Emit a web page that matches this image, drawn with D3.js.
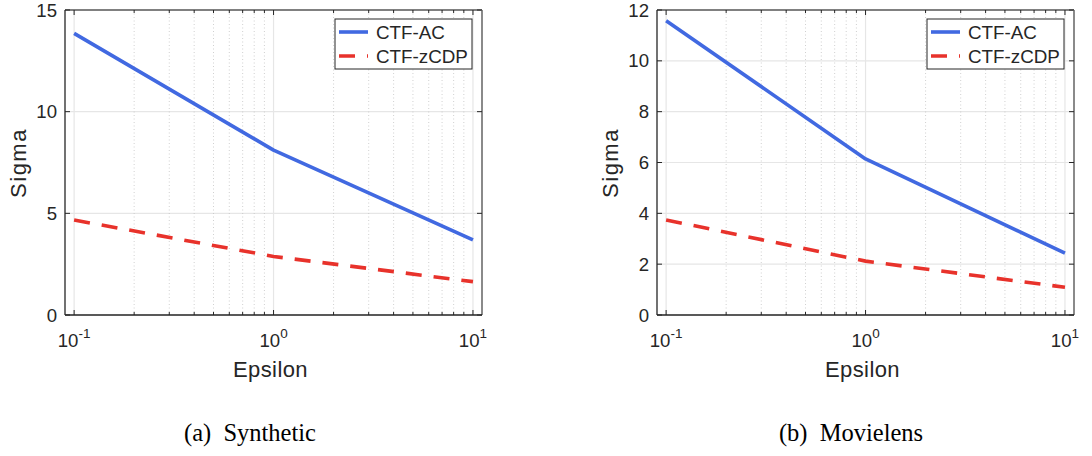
<!DOCTYPE html>
<html>
<head>
<meta charset="utf-8">
<script src="https://cdn.jsdelivr.net/npm/d3@7"></script>
<style>
  body { margin: 0; background: #fff; }
  svg { display: block; }
</style>
</head>
<body>
<script>
// data
const epsilon = [0.1, 1, 10];
const synthAC = [13.85, 8.11, 3.69];
const synthZCDP = [4.67, 2.88, 1.64];
const movieAC = [11.58, 6.14, 2.43];
const movieZCDP = [3.74, 2.12, 1.09];
const seriesNames = ['CTF-AC', 'CTF-zCDP'];
const synthYTicks = [0, 5, 10, 15];
const movieYTicks = [0, 2, 4, 6, 8, 10, 12];
const xTicks = [0.1, 1, 10];
const xExp = ['-1', '0', '1'];
const captions = ['(a)  Synthetic', '(b)  Movielens'];

const W = 1092, H = 456;
const font = '"Liberation Sans", Arial, Helvetica, sans-serif';
const ink = '#262626';
const colors = { ac: '#4169e1', zcdp: '#e8322b' };

const svg = d3.select('body').append('svg')
    .attr('width', W)
    .attr('height', H);

const panels = [
    { left: 65, right: 482, ac: synthAC, zcdp: synthZCDP, ymax: 15, yticks: synthYTicks, caption: captions[0], capX: 250 },
    { left: 657, right: 1074, ac: movieAC, zcdp: movieZCDP, ymax: 12, yticks: movieYTicks, caption: captions[1], capX: 851 }
];
const plotTop = 10, plotBottom = 315;

// minor ticks 2..9 per decade
const minor = [];
[0.1, 1].forEach(d => { for (let k = 2; k <= 9; k++) minor.push(d * k); });

panels.forEach(p => {
    const x = d3.scaleLog().domain([0.09, 11.1]).range([p.left, p.right]);
    const y = d3.scaleLinear().domain([0, p.ymax]).range([plotBottom, plotTop]);
    const g = svg.append('g');

    // grid
    g.append('g').selectAll('line')
        .data(p.yticks).enter().append('line')
        .attr('x1', p.left).attr('x2', p.right)
        .attr('y1', d => y(d)).attr('y2', d => y(d))
        .attr('stroke', '#e6e6e6').attr('stroke-width', 1.2);
    g.append('g').selectAll('line')
        .data(xTicks).enter().append('line')
        .attr('x1', d => x(d)).attr('x2', d => x(d))
        .attr('y1', plotTop).attr('y2', plotBottom)
        .attr('stroke', '#e6e6e6').attr('stroke-width', 1.2);
    g.append('g').selectAll('line')
        .data(minor).enter().append('line')
        .attr('x1', d => x(d)).attr('x2', d => x(d))
        .attr('y1', plotTop).attr('y2', plotBottom)
        .attr('stroke', '#c4c4c4').attr('stroke-width', 0.8)
        .attr('stroke-dasharray', '1,2.5');

    // series
    const line = d3.line().x((d, i) => x(epsilon[i])).y(d => y(d));
    g.append('path').datum(p.ac)
        .attr('d', line).attr('fill', 'none')
        .attr('stroke', colors.ac).attr('stroke-width', 3.6)
        .attr('stroke-linejoin', 'round');
    g.append('path').datum(p.zcdp)
        .attr('d', line).attr('fill', 'none')
        .attr('stroke', colors.zcdp).attr('stroke-width', 3.6)
        .attr('stroke-dasharray', '16,12');

    // box
    g.append('line').attr('x1', p.left).attr('x2', p.right).attr('y1', plotTop).attr('y2', plotTop)
        .attr('stroke', '#5a5a5a').attr('stroke-width', 1.3);
    g.append('line').attr('x1', p.right).attr('x2', p.right).attr('y1', plotTop).attr('y2', plotBottom)
        .attr('stroke', '#8a8a8a').attr('stroke-width', 2);
    g.append('line').attr('x1', p.left).attr('x2', p.left).attr('y1', plotTop).attr('y2', plotBottom)
        .attr('stroke', ink).attr('stroke-width', 1.3);
    g.append('line').attr('x1', p.left).attr('x2', p.right).attr('y1', plotBottom).attr('y2', plotBottom)
        .attr('stroke', ink).attr('stroke-width', 1.3);

    // ticks inward
    const tk = g.append('g').attr('stroke', ink).attr('stroke-width', 1);
    p.yticks.forEach(t => {
        tk.append('line').attr('x1', p.left).attr('x2', p.left + 5).attr('y1', y(t)).attr('y2', y(t));
        tk.append('line').attr('x1', p.right).attr('x2', p.right - 5).attr('y1', y(t)).attr('y2', y(t));
    });
    xTicks.forEach(t => {
        tk.append('line').attr('x1', x(t)).attr('x2', x(t)).attr('y1', plotBottom).attr('y2', plotBottom - 5);
        tk.append('line').attr('x1', x(t)).attr('x2', x(t)).attr('y1', plotTop).attr('y2', plotTop + 5);
    });
    minor.forEach(t => {
        tk.append('line').attr('x1', x(t)).attr('x2', x(t)).attr('y1', plotBottom).attr('y2', plotBottom - 3);
        tk.append('line').attr('x1', x(t)).attr('x2', x(t)).attr('y1', plotTop).attr('y2', plotTop + 3);
    });

    // y tick labels
    g.append('g').selectAll('text')
        .data(p.yticks).enter().append('text')
        .attr('x', p.left - 8).attr('y', d => y(d) + 6.5)
        .attr('text-anchor', 'end')
        .attr('font-family', font).attr('font-size', 18.6).attr('fill', ink)
        .text(d => d);

    // x tick labels with superscripts
    xTicks.forEach((t, i) => {
        const tx = g.append('text')
            .attr('x', x(t)).attr('y', 347)
            .attr('text-anchor', 'middle')
            .attr('font-family', font).attr('font-size', 18.6).attr('fill', ink);
        tx.append('tspan').text('10');
        tx.append('tspan').attr('dy', -9).attr('font-size', 13.5).text(xExp[i]);
    });

    // axis labels
    g.append('text')
        .attr('x', (p.left + p.right) / 2 - 3).attr('y', 377)
        .attr('text-anchor', 'middle')
        .attr('font-family', font).attr('font-size', 22).attr('fill', ink)
        .attr('letter-spacing', 0.4)
        .text('Epsilon');
    g.append('text')
        .attr('transform', `translate(${p.left - 39},163) rotate(-90)`)
        .attr('text-anchor', 'middle')
        .attr('font-family', font).attr('font-size', 22).attr('fill', ink)
        .attr('letter-spacing', 1.5)
        .text('Sigma');

    // legend
    const lx = p.right - 147, ly = 19;
    const lg = g.append('g');
    lg.append('rect').attr('x', lx).attr('y', ly).attr('width', 137).attr('height', 50)
        .attr('fill', '#fff').attr('stroke', ink).attr('stroke-width', 1);
    seriesNames.forEach((name, i) => {
        const yy = ly + 13 + i * 24;
        lg.append('line').attr('x1', lx + 4).attr('x2', lx + 33).attr('y1', yy).attr('y2', yy)
            .attr('stroke', i === 0 ? colors.ac : colors.zcdp).attr('stroke-width', 3.6)
            .attr('stroke-dasharray', i === 0 ? null : '16,12');
        lg.append('text').attr('x', lx + 41).attr('y', yy + 6.8)
            .attr('font-family', font).attr('font-size', 18.8).attr('fill', ink)
            .text(name);
    });

    // caption
    svg.append('text')
        .attr('x', p.capX).attr('y', 441)
        .attr('text-anchor', 'middle')
        .attr('font-family', '"Liberation Serif", "Times New Roman", serif')
        .attr('font-size', 24.5).attr('fill', '#000')
        .style('white-space', 'pre')
        .text(p.caption);
});
</script>
</body>
</html>
